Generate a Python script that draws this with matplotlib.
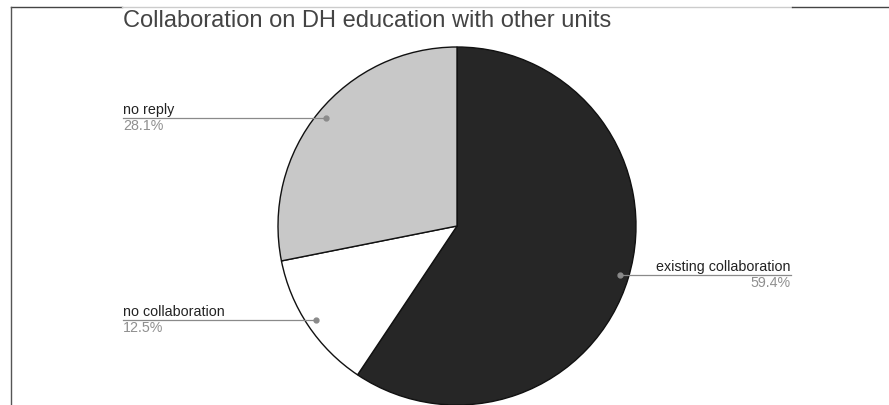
import numpy as np
import matplotlib
matplotlib.use("Agg")
import matplotlib.pyplot as plt
from matplotlib.lines import Line2D

plt.rcParams['font.family'] = ['Liberation Sans', 'DejaVu Sans']

# Data
categories = ["existing collaboration", "no collaboration", "no reply"]
counts = [19, 4, 9]
colors = ["#262626", "#ffffff", "#c8c8c8"]
title = "Collaboration on DH education with other units"

W, H = 889, 405
fig = plt.figure(figsize=(W / 100, H / 100), dpi=100)
ax = fig.add_axes([0, 0, 1, 1])
ax.set_xlim(0, W)
ax.set_ylim(0, H)
ax.set_aspect('equal')
ax.axis('off')

cx, cy, R = 457, H - 226, 179
wedges, _ = ax.pie(counts, colors=colors, startangle=90, counterclock=False,
                   center=(cx, cy), radius=R,
                   wedgeprops=dict(edgecolor='#111111', linewidth=1.0))
ax.set_xlim(0, W)
ax.set_ylim(0, H)

total = sum(counts)
left_x, right_x = 123, 791
for w, name, c in zip(wedges, categories, counts):
    mid = np.deg2rad((w.theta1 + w.theta2) / 2)
    dx = cx + 0.95 * R * np.cos(mid)
    dy = cy + 0.95 * R * np.sin(mid)
    pct = f"{100 * c / total:.1f}%"
    if np.cos(mid) >= 0:
        ex, ha = right_x, 'right'
    else:
        ex, ha = left_x, 'left'
    ax.plot([dx, ex], [dy, dy], color='#8a8a8a', lw=0.9, zorder=5)
    ax.plot([dx], [dy], 'o', color='#8a8a8a', ms=3.5, zorder=6)
    ax.text(ex, dy + 1.5, name, ha=ha, va='bottom', fontsize=10.3, color='#222222')
    ax.text(ex, dy - 0.5, pct, ha=ha, va='top', fontsize=10.3, color='#8f8f8f')

# Title
fig.text(123 / W, 1 - 10 / H, title, ha='left', va='top', fontsize=17, color='#444444')

# Frame lines
fig.add_artist(Line2D([11 / W, 122 / W], [1 - 7 / H, 1 - 7 / H], color='#444444', lw=1.0))
fig.add_artist(Line2D([122 / W, 792 / W], [1 - 7 / H, 1 - 7 / H], color='#cccccc', lw=1.0))
fig.add_artist(Line2D([792 / W, 1], [1 - 7 / H, 1 - 7 / H], color='#444444', lw=1.0))
fig.add_artist(Line2D([11 / W, 11 / W], [0, 1 - 7 / H], color='#555555', lw=1.0))

fig.savefig("out.png", dpi=100)
